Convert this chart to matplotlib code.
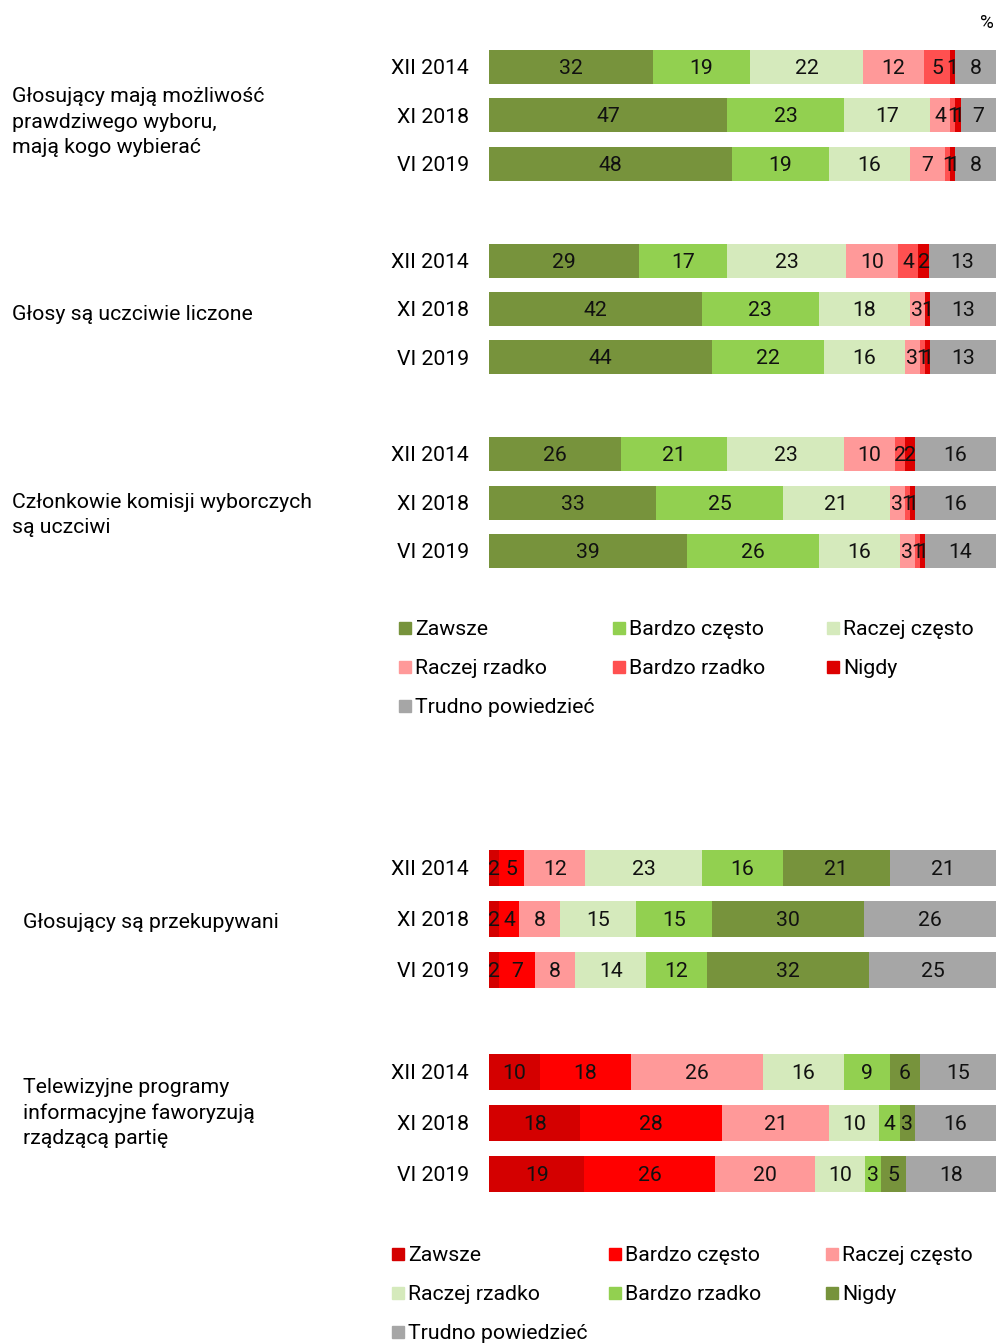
from matplotlib import pyplot as plt
from matplotlib.patches import Rectangle
import numpy as np

plt.rcParams['font.family'] = ['Roboto', 'DejaVu Sans']

W, H = 997, 1343
FS = 15.3

# --- dane ---
lata = ['XII 2014', 'XI 2018', 'VI 2019']

kat_gora = ['Zawsze', 'Bardzo często', 'Raczej często', 'Raczej rzadko',
            'Bardzo rzadko', 'Nigdy', 'Trudno powiedzieć']
kol_gora = ['#77933c', '#92d050', '#d5eabc', '#ff9999', '#ff5050', '#dd0000', '#a6a6a6']

pyt_gora = ['Głosujący mają możliwość\nprawdziwego wyboru,\nmają kogo wybierać',
            'Głosy są uczciwie liczone',
            'Członkowie komisji wyborczych\nsą uczciwi']
wybor = [[32, 19, 22, 12, 5, 1, 8],
         [47, 23, 17, 4, 1, 1, 7],
         [48, 19, 16, 7, 1, 1, 8]]
liczenie = [[29, 17, 23, 10, 4, 2, 13],
            [42, 23, 18, 3, 0, 1, 13],
            [44, 22, 16, 3, 1, 1, 13]]
komisje = [[26, 21, 23, 10, 2, 2, 16],
           [33, 25, 21, 3, 1, 1, 16],
           [39, 26, 16, 3, 1, 1, 14]]

kat_dol = ['Zawsze', 'Bardzo często', 'Raczej często', 'Raczej rzadko',
           'Bardzo rzadko', 'Nigdy', 'Trudno powiedzieć']
kol_dol = ['#d40000', '#ff0000', '#ff9999', '#d5eabc', '#92d050', '#77933c', '#a6a6a6']

pyt_dol = ['Głosujący są przekupywani',
           'Telewizyjne programy\ninformacyjne faworyzują\nrządzącą partię']
przekup = [[2, 5, 12, 23, 16, 21, 21],
           [2, 4, 8, 15, 15, 30, 26],
           [2, 7, 8, 14, 12, 32, 25]]
telewizja = [[10, 18, 26, 16, 9, 6, 15],
             [18, 28, 21, 10, 4, 3, 16],
             [19, 26, 20, 10, 3, 5, 18]]


fig = plt.figure(figsize=(W / 100, H / 100), dpi=100)


def px_axes(x0, y0, x1, y1):
    return fig.add_axes([x0 / W, 1 - y1 / H, (x1 - x0) / W, (y1 - y0) / H])


def rysuj(ax, grupy, kolory, ylim):
    for g, dane in enumerate(grupy):
        for r, row in enumerate(dane):
            y = g * 4 + r
            row = np.array(row, dtype=float)
            szer = row / row.sum() * 100
            lewo = 0
            for v, s, c in zip(row, szer, kolory):
                if v > 0:
                    ax.barh(y, s, left=lewo, height=0.7, color=c, linewidth=0)
                    ax.text(lewo + s / 2, y + 0.03, '%d' % v, ha='center', va='center',
                            fontsize=FS, color='#111111')
                lewo += s
    ax.set_xlim(0, 100)
    ax.set_ylim(ylim[1], ylim[0])
    ax.axis('off')


def legenda(x_kol, y_wier, kategorie, kolory):
    for i, (k, c) in enumerate(zip(kategorie, kolory)):
        x = x_kol[i % 3]
        y = y_wier[i // 3]
        fig.patches.append(Rectangle((x / W, 1 - (y + 6) / H), 12 / W, 12 / H,
                                     transform=fig.transFigure, color=c))
        fig.text((x + 16) / W, 1 - (y + 1.5) / H, k, fontsize=FS, va='center', ha='left')


# --- górna część ---
ax1 = px_axes(489, 50, 996, 568)
rysuj(ax1, [wybor, liczenie, komisje], kol_gora, (-0.35, 10.35))

wiersze_gora = [67, 116, 164, 261, 309, 358, 454, 503, 551]
for i, y in enumerate(wiersze_gora):
    fig.text(469 / W, 1 - (y + 1.5) / H, lata[i % 3], ha='right', va='center', fontsize=FS)

for tekst, y in zip(pyt_gora, [122, 315, 515]):
    fig.text(12 / W, 1 - y / H, tekst, ha='left', va='center', fontsize=FS,
             linespacing=1.42)

fig.text(987 / W, 1 - 23 / H, '%', ha='center', va='center', fontsize=13.5)

legenda([399, 613, 827], [628, 667, 706], kat_gora, kol_gora)

# --- dolna część ---
ax2 = px_axes(489, 850, 996, 1192)
rysuj(ax2, [przekup, telewizja], kol_dol, (-0.35, 6.35))

wiersze_dol = [868, 919, 970, 1072, 1123, 1174]
for i, y in enumerate(wiersze_dol):
    fig.text(469 / W, 1 - (y + 1.5) / H, lata[i % 3], ha='right', va='center', fontsize=FS)

for tekst, y in zip(pyt_dol, [923, 1113]):
    fig.text(23 / W, 1 - y / H, tekst, ha='left', va='center', fontsize=FS,
             linespacing=1.42)

legenda([392, 609, 826], [1254, 1293, 1332], kat_dol, kol_dol)

plt.savefig('out.png', dpi=100)
